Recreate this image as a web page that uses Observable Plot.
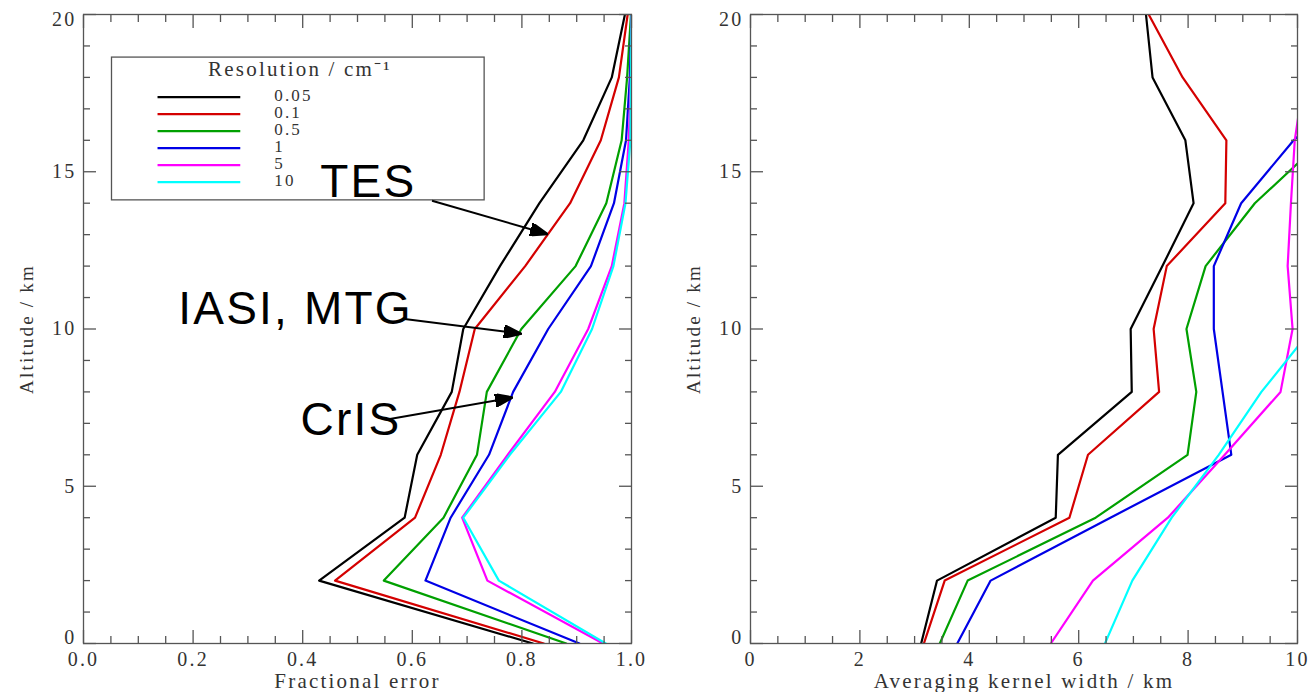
<!DOCTYPE html>
<html>
<head>
<meta charset="utf-8">
<script src="https://cdn.jsdelivr.net/npm/d3@7"></script>
<script src="https://cdn.jsdelivr.net/npm/@observablehq/plot@0.6"></script>
<style>
  body { margin: 0; background: #fff; }
  #wrap { display: flex; width: 1311px; height: 692px; }
  #wrap svg text { letter-spacing: 2.2px; }
  #wrap g[aria-label="annotation"] text { letter-spacing: 0px; }
  #wrap g[aria-label="legend-title"] text { letter-spacing: 4.5px; }
  #wrap g[aria-label="legend-label"] text { letter-spacing: 3px; }
  #wrap g[aria-label="axis-title"] text { letter-spacing: 2.6px; }
  #wrap g[aria-label="y-title"] text { letter-spacing: 1.1px; }
</style>
</head>
<body>
<div id="wrap"></div>
<script>
// ---------------- data ----------------
const altitudes = [0, 2, 4, 6, 8, 10, 12, 14, 16, 18, 20];
const resolutions = ["0.05", "0.1", "0.5", "1", "5", "10"];
const lineColors = ["#000000", "#d40000", "#00a000", "#0000e6", "#ff00ff", "#00ffff"];

// Left panel: fractional error vs altitude (one array per resolution)
const fracErr005 = [0.820, 0.430, 0.586, 0.609, 0.672, 0.693, 0.760, 0.832, 0.912, 0.964, 0.988];
const fracErr01  = [0.840, 0.459, 0.605, 0.652, 0.686, 0.714, 0.806, 0.888, 0.944, 0.977, 0.993];
const fracErr05  = [0.881, 0.548, 0.657, 0.718, 0.736, 0.799, 0.898, 0.954, 0.982, 0.992, 0.999];
const fracErr1   = [0.905, 0.624, 0.670, 0.740, 0.784, 0.848, 0.926, 0.968, 0.990, 0.997, 1.000];
const fracErr5   = [0.948, 0.737, 0.691, 0.774, 0.860, 0.921, 0.964, 0.987, 0.995, 0.999, 1.000];
const fracErr10  = [0.953, 0.758, 0.693, 0.778, 0.871, 0.928, 0.967, 0.989, 0.998, 0.999, 1.000];

// Right panel: averaging kernel width (km) vs altitude
const akWidth005 = [3.12, 3.41, 5.58, 5.62, 6.97, 6.95, 7.53, 8.10, 7.95, 7.35, 7.23];
const akWidth01  = [3.17, 3.55, 5.83, 6.17, 7.47, 7.37, 7.61, 8.68, 8.70, 7.90, 7.28];
const akWidth05  = [3.46, 3.97, 6.31, 7.99, 8.15, 7.97, 8.32, 9.22, 10.46, null, null];
const akWidth1   = [3.78, 4.39, 6.58, 8.79, 8.63, 8.47, 8.47, 8.97, 9.93, 11.2, null];
const akWidth5   = [5.49, 6.26, 7.63, 8.67, 9.69, 9.91, 9.82, 9.88, 9.95, 10.12, null];
const akWidth10  = [6.48, 6.98, 7.70, 8.56, 9.34, 10.26, null, null, null, null, null];

// ticks and labels
const leftXTicks = [0, 0.2, 0.4, 0.6, 0.8, 1.0];
const leftXLabels = ["0.0", "0.2", "0.4", "0.6", "0.8", "1.0"];
const rightXTicks = [0, 2, 4, 6, 8, 10];
const rightXLabels = ["0", "2", "4", "6", "8", "10"];
const yTicks = [0, 5, 10, 15, 20];
const yLabels = ["0", "5", "10", "15", "20"];

// annotations (left panel)
const annotLabels = ["TES", "IASI, MTG", "CrIS"];
const annotX = [0.432, 0.173, 0.396];
const annotY = [14.66, 10.63, 7.10];
const arrowX1 = [0.636, 0.586, 0.559];
const arrowY1 = [14.08, 10.32, 7.14];
const arrowX2 = [0.846, 0.798, 0.782];
const arrowY2 = [13.02, 9.85, 7.82];

const legendTitle = "Resolution / cm\u207B\u00B9";

// ---------------- build ----------------
const leftSeries = [fracErr005, fracErr01, fracErr05, fracErr1, fracErr5, fracErr10];
const rightSeries = [akWidth005, akWidth01, akWidth05, akWidth1, akWidth5, akWidth10];
function tidy(series) {
  const rows = [];
  series.forEach((vals, i) => vals.forEach((v, j) => rows.push({res: resolutions[i], alt: altitudes[j], v})));
  return rows;
}
const leftRows = tidy(leftSeries);
const rightRows = tidy(rightSeries);

const gray = "#555";
const textColor = "#333";
const yMinor = d3.range(0, 21).filter(i => i % 5 !== 0);
const yLabelMap = new Map(yTicks.map((t, i) => [t, yLabels[i]]));
const yMin = yTicks[0], yMax = yTicks[yTicks.length - 1];

function yLabelAxis(values, dy) {
  return Plot.axisY(values, {anchor: "left", tickSize: 0, tickPadding: 7, label: null, fill: textColor,
    fontSize: 20, dy, tickFormat: d => yLabelMap.get(d)});
}

function boxAxes(xMajor, xMinor, xLabelMap, xTitle) {
  return [
    Plot.frame({stroke: gray, strokeWidth: 1.3}),
    Plot.axisX(xMajor, {anchor: "bottom", tickSize: 13, dy: -13, fill: "none", stroke: gray, strokeWidth: 1.3}),
    Plot.axisX(xMinor, {anchor: "bottom", tickSize: 7, dy: -7, fill: "none", stroke: gray, strokeWidth: 1.3}),
    Plot.axisX(xMajor, {anchor: "top", tickSize: 13, dy: 13, fill: "none", stroke: gray, strokeWidth: 1.3}),
    Plot.axisX(xMinor, {anchor: "top", tickSize: 7, dy: 7, fill: "none", stroke: gray, strokeWidth: 1.3}),
    Plot.axisY(yTicks, {anchor: "left", tickSize: 13, dx: 13, fill: "none", stroke: gray, strokeWidth: 1.3}),
    Plot.axisY(yMinor, {anchor: "left", tickSize: 7, dx: 7, fill: "none", stroke: gray, strokeWidth: 1.3}),
    Plot.axisY(yTicks, {anchor: "right", tickSize: 13, dx: -13, fill: "none", stroke: gray, strokeWidth: 1.3}),
    Plot.axisY(yMinor, {anchor: "right", tickSize: 7, dx: -7, fill: "none", stroke: gray, strokeWidth: 1.3}),
    Plot.axisX(xMajor, {anchor: "bottom", tickSize: 0, tickPadding: 8, label: null, fill: textColor,
      fontSize: 20, tickFormat: d => xLabelMap.get(d)}),
    yLabelAxis([yMin], -6),
    yLabelAxis(yTicks.filter(t => t !== yMin && t !== yMax), 0),
    yLabelAxis([yMax], 5),
    Plot.text([xTitle], {frameAnchor: "bottom", lineAnchor: "middle", textAnchor: "middle", dy: 38,
      text: d => d, fontSize: 21, fill: textColor, ariaLabel: "axis-title"}),
    Plot.text(["Altitude / km"], {frameAnchor: "left", textAnchor: "middle", lineAnchor: "middle", dx: -57, rotate: -90,
      text: d => d, fontSize: 19, fill: textColor, ariaLabel: "y-title"})
  ];
}

function arrowMarker(color, context) {
  const ns = "http://www.w3.org/2000/svg";
  const m = context.document.createElementNS(ns, "marker");
  m.setAttribute("viewBox", "0 -6.5 18 13");
  m.setAttribute("markerUnits", "userSpaceOnUse");
  m.setAttribute("markerWidth", "18");
  m.setAttribute("markerHeight", "13");
  m.setAttribute("refX", "17");
  m.setAttribute("refY", "0");
  m.setAttribute("orient", "auto");
  const p = context.document.createElementNS(ns, "path");
  p.setAttribute("d", "M0,-6.5L18,0L0,6.5Z");
  p.setAttribute("fill", color);
  m.appendChild(p);
  return m;
}

const colorScale = {domain: resolutions, range: lineColors};
const baseStyle = {fontFamily: "'Liberation Serif', 'Times New Roman', serif", fontSize: "20px", color: textColor, background: "white", overflow: "visible"};

// legend rows (left panel)
const legendRows = resolutions.map((r, i) => ({res: r, y: 17.37 - i * 0.54}));
const annotations = annotLabels.map((t, i) => ({t, x: annotX[i], y: annotY[i], x1: arrowX1[i], y1: arrowY1[i], x2: arrowX2[i], y2: arrowY2[i]}));

const left = Plot.plot({
  width: 660, height: 692,
  marginLeft: 83, marginRight: 29, marginTop: 14, marginBottom: 49,
  x: {domain: [0, 1]},
  y: {domain: [0, 20]},
  color: colorScale,
  style: baseStyle,
  marks: [
    Plot.rect([0], {x1: 0.052, x2: 0.732, y1: 14.09, y2: 18.63, stroke: gray, strokeWidth: 1.3, fill: "white"}),
    Plot.ruleY(legendRows, {y: "y", x1: 0.136, x2: 0.287, stroke: "res", strokeWidth: 2.2}),
    Plot.text(legendRows, {x: 0.348, y: "y", dy: -2, text: "res", textAnchor: "start", fontSize: 17, fill: textColor, ariaLabel: "legend-label"}),
    Plot.text([legendTitle], {x: 0.395, y: 18.26, text: d => d, fontSize: 21, fill: textColor, ariaLabel: "legend-title"}),
    Plot.line(leftRows, {x: "v", y: "alt", z: "res", stroke: "res", strokeWidth: 2.2, clip: true}),
    ...boxAxes(leftXTicks, d3.range(0, 21).filter(i => i % 4 !== 0).map(i => i * 0.05), new Map(leftXTicks.map((t, i) => [t, leftXLabels[i]])), "Fractional error"),
    Plot.link(annotations, {x1: "x1", y1: "y1", x2: "x2", y2: "y2", stroke: "black", strokeWidth: 2, markerEnd: arrowMarker}),
    Plot.text(annotations, {x: "x", y: "y", text: "t", textAnchor: "start", fontSize: 46, fill: "black",
      fontFamily: "'Liberation Sans', Arial, sans-serif", ariaLabel: "annotation"})
  ]
});

const right = Plot.plot({
  width: 651, height: 692,
  marginLeft: 90, marginRight: 14, marginTop: 14, marginBottom: 49,
  x: {domain: [0, 10]},
  y: {domain: [0, 20]},
  color: colorScale,
  style: baseStyle,
  marks: [
    Plot.line(rightRows, {x: "v", y: "alt", z: "res", stroke: "res", strokeWidth: 2.2, clip: true}),
    ...boxAxes(rightXTicks, d3.range(0, 21).filter(i => i % 4 !== 0).map(i => i * 0.5), new Map(rightXTicks.map((t, i) => [t, rightXLabels[i]])), "Averaging kernel width / km")
  ]
});

document.getElementById("wrap").append(left, right);
</script>
</body>
</html>
